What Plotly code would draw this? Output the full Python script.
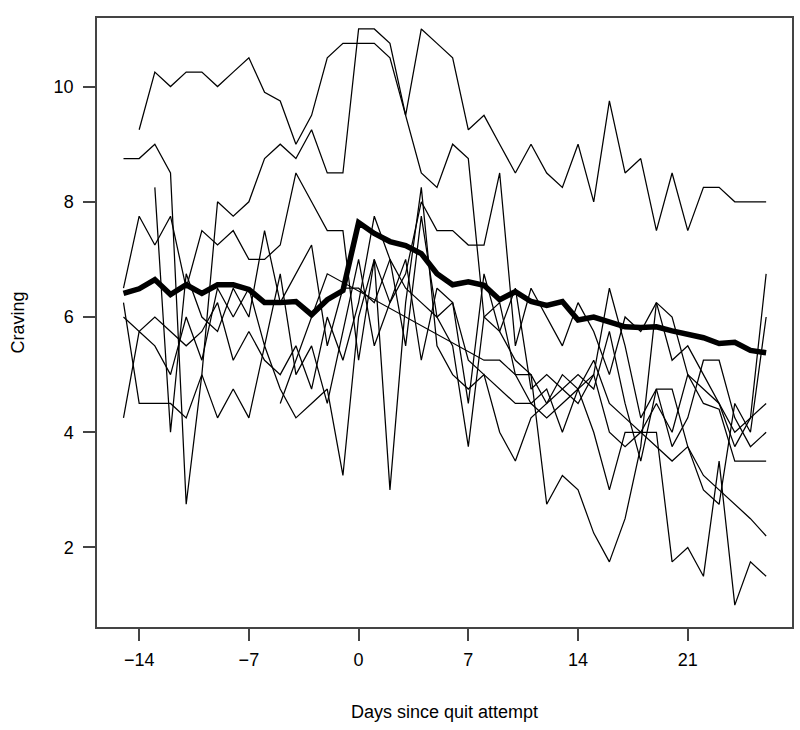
import plotly.graph_objects as go

# ---- data ----
mean_days = list(range(-15, 27))
mean_vals = [6.41, 6.49, 6.65, 6.39, 6.56, 6.41, 6.56, 6.56, 6.48, 6.25, 6.25, 6.27, 6.04, 6.30, 6.46,
             7.64, 7.45, 7.31, 7.24, 7.10, 6.75, 6.56, 6.61, 6.55, 6.30, 6.44, 6.27, 6.20, 6.27, 5.95,
             6.00, 5.92, 5.83, 5.82, 5.83, 5.76, 5.69, 5.64, 5.54, 5.56, 5.42, 5.38]

a_days = list(range(-14, 27))
a_vals = [9.25, 10.25, 10.0, 10.25, 10.25, 10.0, 10.25, 10.5, 9.9, 9.75, 9.0, 9.5, 10.5, 10.75,
          10.75, 10.75, 10.5, 9.5, 8.5, 8.25, 9.0, 8.75,
          6.0, 5.75, 6.5, 4.75, 5.0, 4.75, 4.5, 5.0, 6.5, 5.5, 4.25, 4.75, 3.75, 4.25, 5.25, 5.25,
          4.25, 3.75, 4.0]

b_days = list(range(-15, 27))
b_vals = [8.75, 8.75, 9.0, 8.5, 2.75, 5.0, 8.0, 7.75, 8.0, 8.75, 9.0, 8.75, 9.25, 8.5, 8.5,
          11.0, 11.0, 10.75, 9.5, 11.0, 10.75, 10.5, 9.25, 9.5, 9.0, 8.5, 9.0, 8.5, 8.25, 9.0,
          8.0, 9.75, 8.5, 8.75, 7.5, 8.5, 7.5, 8.25, 8.25, 8.0, 8.0, 8.0]

d_days = list(range(-15, 27))
d_vals = [6.5, 7.75, 7.25, 7.75, 6.5, 7.5, 7.25, 7.5, 7.0, 7.0, 7.25, 8.5, 8.0, 7.5, 7.5,
          5.25, 7.0, 6.25, 6.75, 8.0, 7.5, 7.5, 7.25, 7.25, 8.5, 5.5, 6.5, 6.0, 5.5, 6.25,
          5.75, 5.0, 6.0, 5.75, 6.25, 5.25, 5.5, 5.0, 4.5, 4.0, 4.25, 6.75]

e_days = list(range(-15, 27))
e_vals = [6.0, 5.75, 6.0, 5.75, 5.5, 5.75, 6.25, 5.25, 5.75, 5.25, 5.0, 5.5, 4.75, 6.0, 5.25,
          6.25, 7.75, 7.0, 5.5, 7.75, 6.0, 5.5, 3.75, 6.0, 6.25, 5.0, 4.5, 4.75, 4.0, 4.75,
          5.0, 4.0, 3.75, 4.0, 4.5, 4.0, 5.0, 4.75, 4.5, 3.75, 4.25, 4.5]

f_days = list(range(-15, 27))
f_vals = [6.25, 4.5, 4.5, 4.5, 4.25, 5.0, 4.25, 4.75, 4.25, 5.5, 4.75, 4.25, 4.5, 4.75, 3.25,
          6.0, 7.0, 3.0, 6.25, 8.25, 5.5, 5.0, 4.75, 5.0, 4.0, 3.5, 4.25, 4.5, 5.0, 4.75,
          4.0, 3.0, 4.0, 4.0, 4.0, 1.75, 2.0, 1.5, 3.5, 1.0, 1.75, 1.5]

g_days = list(range(-15, 27))
g_vals = [4.25, 5.75, 5.5, 5.0, 6.0, 5.25, 6.5, 6.0, 6.5, 5.5, 6.75, 5.0, 5.5, 4.5, 5.75,
          7.0, 5.5, 6.25, 7.0, 5.25, 6.5, 6.25, 4.5, 6.75, 5.75, 5.25, 5.0, 4.5, 4.75, 5.0,
          4.75, 5.75, 4.5, 3.5, 4.75, 4.75, 3.75, 3.0, 2.75, 4.5, 4.0, 6.0]

h_days = list(range(-13, 27))
h_vals = [8.25, 4.0, 6.75, 6.0, 5.75, 6.5, 6.0, 7.5, 6.25, 6.75, 7.25, 5.5, 6.5,
          6.5, 6.25, 7.0, 6.5, 6.25, 6.0, 6.25, 5.25, 5.0, 4.75, 4.5, 4.5, 4.25, 4.5, 4.75,
          5.25, 4.5, 4.25, 4.0, 3.75, 3.5, 3.75, 3.25, 3.0, 2.75, 2.5, 2.2]

i_days = [-5, -2, 8, 9, 10, 11, 12, 13, 14, 15, 16, 17, 18, 19, 20, 21, 22, 23, 24, 25, 26]
i_vals = [4.5, 6.75, 5.25, 5.25, 5.0, 5.0, 2.75, 3.25, 3.0, 2.25, 1.75, 2.5, 3.75, 6.25, 6.0,
          5.0, 4.5, 4.4, 3.5, 3.5, 3.5]

thin = [(a_days, a_vals), (b_days, b_vals), (d_days, d_vals), (e_days, e_vals),
        (f_days, f_vals), (g_days, g_vals), (h_days, h_vals), (i_days, i_vals)]

x_ticks = [-14, -7, 0, 7, 14, 21]
x_labels = ["\u221214", "\u22127", "0", "7", "14", "21"]
y_ticks = [2, 4, 6, 8, 10]

fig = go.Figure()
for dd, vv in thin:
    fig.add_trace(go.Scatter(x=dd, y=vv, mode="lines",
                             line=dict(color="black", width=1.25), showlegend=False,
                             hoverinfo="skip"))
fig.add_trace(go.Scatter(x=mean_days, y=mean_vals, mode="lines",
                         line=dict(color="black", width=5.5), showlegend=False))

font = dict(family="Liberation Sans, Arial, sans-serif", size=18, color="black")
fig.update_layout(
    width=800, height=730,
    margin=dict(l=97, r=8, t=18, b=103, autoexpand=False),
    paper_bgcolor="white", plot_bgcolor="white",
    font=font,
    xaxis=dict(range=[-16.69, 27.65], tickvals=x_ticks, ticktext=x_labels,
               showgrid=False, zeroline=False, showline=True, mirror=True,
               linecolor="#444", linewidth=1.5, ticks="outside", ticklen=12,
               tickcolor="#444", tickwidth=1.5, tickfont=font, automargin=False,
               ticklabelstandoff=4,
               title=dict(text="Days since quit attempt", font=font, standoff=36)),
    yaxis=dict(range=[0.62, 11.19], tickvals=y_ticks,
               showgrid=False, zeroline=False, showline=True, mirror=True,
               linecolor="#444", linewidth=1.5, ticks="outside", ticklen=12,
               tickcolor="#444", tickwidth=1.5, tickfont=font, automargin=False,
               ticklabelstandoff=6,
               title=dict(text="Craving", font=font, standoff=24)),
)
fig.write_html("out.html", config={"displayModeBar": False},
               post_script="document.body.style.margin='0';document.body.style.overflow='hidden';")
